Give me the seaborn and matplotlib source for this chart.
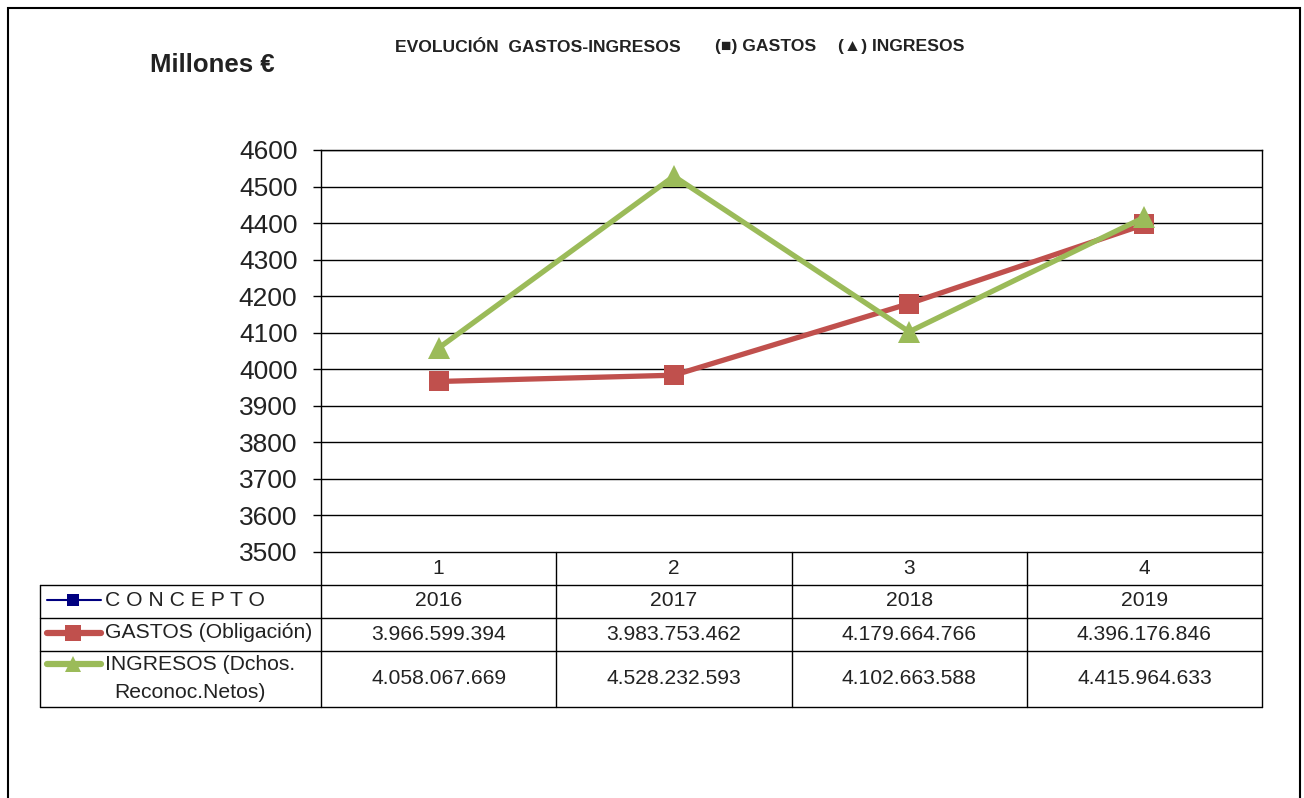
import matplotlib
matplotlib.use("Agg")
import matplotlib.pyplot as plt
import matplotlib.transforms as mtransforms
from matplotlib.lines import Line2D
from matplotlib.patches import Rectangle
import seaborn as sns
import pandas as pd

# ---- data ----
positions = [1, 2, 3, 4]
years = ["2016", "2017", "2018", "2019"]
gastos = [3966.599394, 3983.753462, 4179.664766, 4396.176846]
ingresos = [4058.067669, 4528.232593, 4102.663588, 4415.964633]
gastos_txt = ["3.966.599.394", "3.983.753.462", "4.179.664.766", "4.396.176.846"]
ingresos_txt = ["4.058.067.669", "4.528.232.593", "4.102.663.588", "4.415.964.633"]
yticks = list(range(3500, 4601, 100))

RED = "#C0504D"
GREEN = "#9BBB59"
NAVY = "#000080"

sns.set_style("white")
plt.rcParams["font.family"] = ["Liberation Sans", "DejaVu Sans"]

W, H = 1304, 798
fig = plt.figure(figsize=(W / 100, H / 100), dpi=100)

def fx(px):
    return px / W

def fy(py):
    return 1 - py / H

ax_l, ax_r, ax_t, ax_b = 321, 1262, 150, 552
ax = fig.add_axes([fx(ax_l), fy(ax_b), fx(ax_r) - fx(ax_l), fy(ax_t) - fy(ax_b)])

df = pd.DataFrame({"x": positions * 2,
                   "y": gastos + ingresos,
                   "serie": ["GASTOS"] * 4 + ["INGRESOS"] * 4})

sns.lineplot(data=df[df.serie == "GASTOS"], x="x", y="y", color=RED, lw=3.8,
             marker="s", markersize=14.5, markeredgewidth=0, ax=ax, legend=False, zorder=3)
sns.lineplot(data=df[df.serie == "INGRESOS"], x="x", y="y", color=GREEN, lw=3.8,
             marker="^", markersize=15.5, markeredgewidth=0, ax=ax, legend=False, zorder=4)

ax.set_xlim(0.5, 4.5)
ax.set_ylim(3500, 4600)
ax.set_yticks(yticks)
ax.set_yticklabels([str(v) for v in yticks], fontsize=19, color="#222222")
ax.tick_params(axis="y", length=6, width=1, pad=11, color="black", left=True)
ax.set_xticks(positions)
ax.set_xticklabels([str(p) for p in positions], fontsize=15, color="#222222")
ax.tick_params(axis="x", length=0, pad=5)
ax.set_xlabel("")
ax.set_ylabel("")
ax.grid(False)
for v in yticks[1:]:
    ax.axhline(v, color="black", lw=1, zorder=1)
for s in ["left", "right", "top", "bottom"]:
    ax.spines[s].set_visible(True)
    ax.spines[s].set_color("black")
    ax.spines[s].set_linewidth(1)

# ---- table below ----
trans = mtransforms.blended_transform_factory(ax.transData, ax.transAxes)
hpx = ax_b - ax_t

def ya(py):
    return (ax_b - py) / hpx

x_left = 0.5 - (ax_l - 40) / ((ax_r - ax_l) / 4)
rows = [585, 618, 651, 707]
tbl_kw = dict(color="black", lw=1, transform=trans, clip_on=False)

for r in rows:
    ax.add_line(Line2D([x_left, 4.5], [ya(r), ya(r)], **tbl_kw))
ax.add_line(Line2D([x_left, x_left], [ya(585), ya(707)], **tbl_kw))
for xb in [0.5, 1.5, 2.5, 3.5, 4.5]:
    ax.add_line(Line2D([xb, xb], [0, ya(707)], **tbl_kw))

fs = 15.2
row_centers = [601, 634, 679]
for p, yr, g, i in zip(positions, years, gastos_txt, ingresos_txt):
    ax.text(p, ya(row_centers[0]), yr, transform=trans, ha="center", va="center", fontsize=fs, color="#222222")
    ax.text(p, ya(row_centers[1]), g, transform=trans, ha="center", va="center", fontsize=fs, color="#222222")
    ax.text(p, ya(row_centers[2]), i, transform=trans, ha="center", va="center", fontsize=fs, color="#222222")

# legend keys in first column
def key(y_px, color, lw, marker, ms):
    fig.add_artist(Line2D([fx(47), fx(101)], [fy(y_px), fy(y_px)], color=color, lw=lw,
                          solid_capstyle="round"))
    fig.add_artist(Line2D([fx(73)], [fy(y_px)], color=color, marker=marker, markersize=ms,
                          markeredgewidth=0, lw=0))

key(600, NAVY, 1.5, "s", 8)
key(633, RED, 4.5, "s", 11)
key(664, GREEN, 4.5, "^", 11)

fig.text(fx(105), fy(600), "C O N C E P T O", ha="left", va="center", fontsize=fs, color="#222222")
fig.text(fx(105), fy(633), "GASTOS (Obligación)", ha="left", va="center", fontsize=fs, color="#222222")
fig.text(fx(105), fy(665), "INGRESOS (Dchos.", ha="left", va="center", fontsize=fs, color="#222222")
fig.text(fx(190), fy(692), "Reconoc.Netos)", ha="center", va="center", fontsize=fs, color="#222222")

# ---- titles ----
fig.text(fx(150), fy(65), "Millones €", ha="left", va="center", fontsize=18.5,
         fontweight="bold", color="#222222")
fig.text(fx(395), fy(47), "EVOLUCIÓN  GASTOS-INGRESOS", ha="left", va="center",
         fontsize=12.6, fontweight="bold", color="#222222")
fig.text(fx(715), fy(47), "(■) GASTOS", ha="left", va="center",
         fontsize=12.6, fontweight="bold", color="#222222")
fig.text(fx(838), fy(47), "(▲) INGRESOS", ha="left", va="center",
         fontsize=12.6, fontweight="bold", color="#222222")

# outer frame
fig.add_artist(Rectangle((fx(8), fy(830)), fx(1300) - fx(8), fy(8) - fy(830),
                         transform=fig.transFigure, fill=False, edgecolor="black", lw=1.5,
                         clip_on=False))

fig.savefig("out.png", dpi=100, facecolor="white")
